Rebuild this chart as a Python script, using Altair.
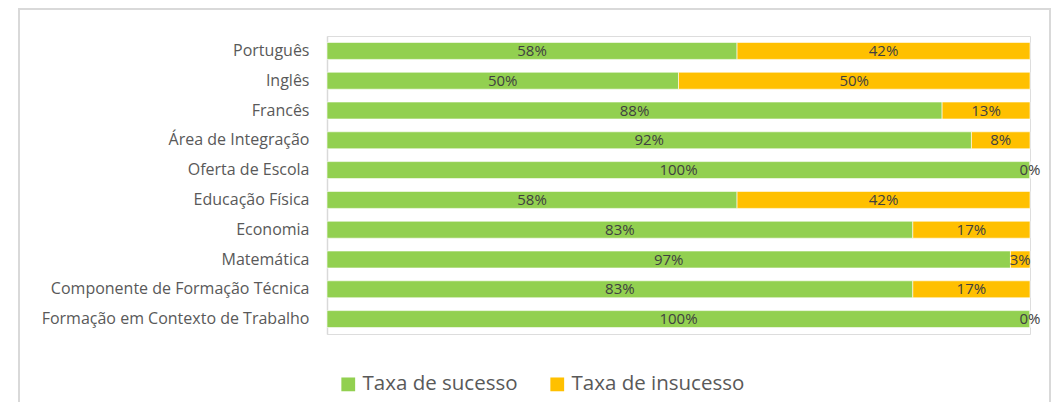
import altair as alt
import pandas as pd

categories = [
    "Português", "Inglês", "Francês", "Área de Integração", "Oferta de Escola",
    "Educação Física", "Economia", "Matemática",
    "Componente de Formação Técnica", "Formação em Contexto de Trabalho",
]
sucesso = [58.33, 50.0, 87.5, 91.67, 100.0, 58.33, 83.33, 97.22, 83.33, 100.0]
insucesso = [41.67, 50.0, 12.5, 8.33, 0.0, 41.67, 16.67, 2.78, 16.67, 0.0]
series = ["Taxa de sucesso", "Taxa de insucesso"]
colors = ["#92D050", "#FFC000"]

rows = []
for i, c in enumerate(categories):
    rows.append({"cat": c, "serie": series[0], "ord": 0, "val": sucesso[i]})
    rows.append({"cat": c, "serie": series[1], "ord": 1, "val": insucesso[i]})
df = pd.DataFrame(rows)

FONT = "Open Sans"

base = alt.Chart(df).transform_stack(
    stack="val", groupby=["cat"], as_=["x0", "x1"], sort=[alt.SortField("ord")]
).transform_calculate(
    mid="(datum.x0 + datum.x1) / 2",
    lab="format(datum.val, '.0f') + '%'",
)

yenc = alt.Y(
    "cat:N", sort=categories, title=None,
    scale=alt.Scale(paddingInner=0.43, paddingOuter=0.215),
    axis=alt.Axis(ticks=False, labelFont=FONT, labelFontSize=16, labelColor="#595959",
                  labelPadding=18, domainColor="#D9D9D9", domainWidth=1.5, labelLimit=400),
)

xscale = alt.Scale(domain=[0, 100], nice=False, zero=True)

bars = base.mark_bar(stroke="white", strokeWidth=0.6).encode(
    x=alt.X("x0:Q", scale=xscale, axis=None),
    x2="x1:Q",
    y=yenc,
    color=alt.Color(
        "serie:N", scale=alt.Scale(domain=series, range=colors), title=None,
        legend=alt.Legend(orient="none", legendX=11, legendY=338, direction="horizontal",
                          symbolType="square", symbolSize=190, symbolStrokeWidth=0,
                          labelFont=FONT, labelFontSize=20.5, labelColor="#595959",
                          columnPadding=29, symbolOffset=0, labelOffset=4, labelLimit=400),
    ),
)

texts = base.mark_text(font=FONT, fontSize=15, color="#404040", baseline="middle").encode(
    x=alt.X("mid:Q", scale=xscale),
    y=alt.Y("cat:N", sort=categories),
    text="lab:N",
)

frame = alt.Chart(pd.DataFrame({"f": [0]})).mark_rect(
    fill=None, stroke="#D9D9D9", strokeWidth=2
).encode(
    x=alt.value(-308), x2=alt.value(723), y=alt.value(-27), y2=alt.value(420),
)

chart = alt.layer(frame, bars, texts).properties(
    width=703, height=298,
    autosize=alt.AutoSizeParams(type="none"),
    padding={"left": 319, "top": 28, "right": 22, "bottom": 68},
).configure_view(stroke=None).configure(background="white")

chart.save("out.html", embed_options={"renderer": "svg", "actions": False})
